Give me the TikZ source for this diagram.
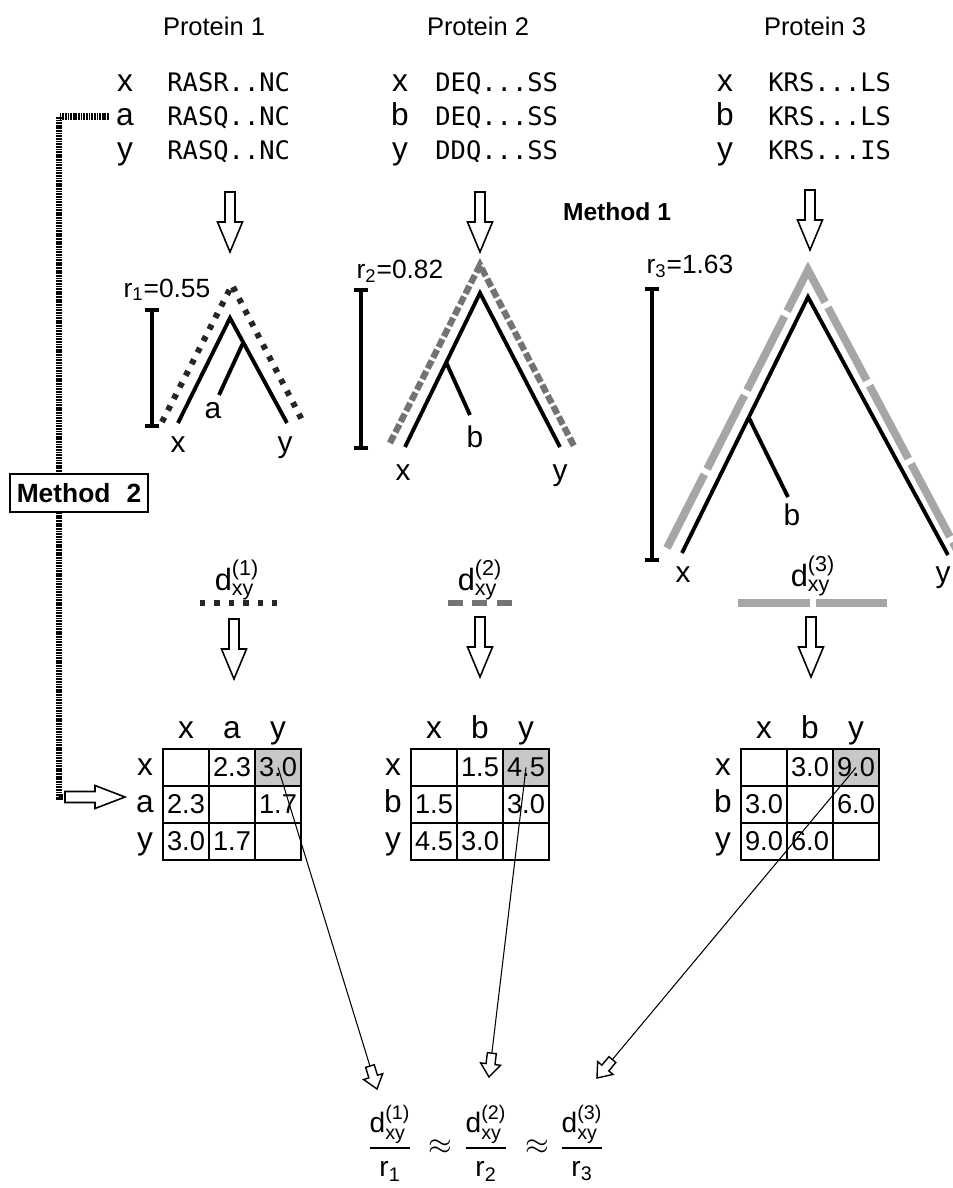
\documentclass[tikz,border=0pt]{standalone}
\usepackage{amsmath}
\usepackage{fontspec}
\setmainfont{Liberation Sans}
\newfontfamily\seqfont{DejaVu Sans Mono}
\usetikzlibrary{calc,arrows.meta}

\tikzset{
  title/.style={font=\fontsize{14.5}{17}\selectfont},
  seq/.style={font=\seqfont\fontsize{14.5}{17}\selectfont, inner sep=0pt},
  lbl/.style={font=\fontsize{18}{20}\selectfont, inner sep=0pt},
  leaf/.style={font=\fontsize{17}{19}\selectfont, inner sep=0pt},
  rlabel/.style={font=\fontsize{15}{17}\selectfont, inner sep=0pt},
  dist/.style={font=\fontsize{17.5}{20}\selectfont, inner sep=0pt},
  ratio/.style={font=\fontsize{16}{18}\selectfont, inner sep=0pt},
  method/.style={font=\bfseries\fontsize{14}{16}\selectfont},
  branch/.style={line width=2.2pt},
  scalebar/.style={line width=2pt, {Bar[width=8pt]}-{Bar[width=8pt]}},
  dotone/.style={line width=3.4pt, black!85, dash pattern=on 3pt off 4.4pt},
  dashtwo/.style={line width=3.6pt, black!55, dash pattern=on 5pt off 1.8pt},
  dashthree/.style={line width=4.5pt, black!35, dash pattern=on 47pt off 3.4pt},
  cell/.style={draw, line width=1.2pt, minimum width=0.92cm, minimum height=0.74cm,
    inner sep=0pt, font=\fontsize{15.5}{17}\selectfont},
  hit/.style={cell, fill=black!22},
  methodtwo/.style={line width=3.8pt, dash pattern=on 1pt off 0.5pt},
  thinarrow/.style={line width=0.6pt},
  bigdown/.pic={
    \draw[fill=white, line width=0.9pt] (-5,0) -- (-5,30) -- (-12.5,30) -- (0,60)
      -- (12.5,30) -- (5,30) -- (5,0) -- cycle;},
  bigright/.pic={
    \draw[fill=white, line width=0.9pt] (0,-5.5) -- (30,-5.5) -- (30,-11.5) -- (60,0)
      -- (30,11.5) -- (30,5.5) -- (0,5.5) -- cycle;},
  hollowhead/.pic={
    \draw[fill=white, line width=0.8pt] (0,0) -- (-13,10) -- (-13,4.5) -- (-24,4.5)
      -- (-24,-4.5) -- (-13,-4.5) -- (-13,-10) -- cycle;},
}

\begin{document}
\begin{tikzpicture}[x=0.02cm, y=-0.02cm]
    \useasboundingbox (0,0) rectangle (953,1188);

    % titles
    \node[title] (t1) at (214,26) {Protein 1};
    \node[title] (t2) at (478,26) {Protein 2};
    \node[title] (t3) at (815,26) {Protein 3};

    % sequences protein 1
    \node[lbl, anchor=base] (p1x) at (125,91) {x};
    \node[lbl, anchor=base] (p1a) at (125,125) {a};
    \node[lbl, anchor=base] (p1y) at (125,159) {y};
    \node[seq, anchor=base west] (s1x) at (167,91) {RASR..NC};
    \node[seq, anchor=base west] (s1a) at (167,125) {RASQ..NC};
    \node[seq, anchor=base west] (s1y) at (167,159) {RASQ..NC};

    % sequences protein 2
    \node[lbl, anchor=base] (p2x) at (400,91) {x};
    \node[lbl, anchor=base] (p2b) at (400,125) {b};
    \node[lbl, anchor=base] (p2y) at (400,159) {y};
    \node[seq, anchor=base west] (s2x) at (435,91) {DEQ...SS};
    \node[seq, anchor=base west] (s2b) at (435,125) {DEQ...SS};
    \node[seq, anchor=base west] (s2y) at (435,159) {DDQ...SS};

    % sequences protein 3
    \node[lbl, anchor=base] (p3x) at (725,91) {x};
    \node[lbl, anchor=base] (p3b) at (725,125) {b};
    \node[lbl, anchor=base] (p3y) at (725,159) {y};
    \node[seq, anchor=base west] (s3x) at (768,91) {KRS...LS};
    \node[seq, anchor=base west] (s3b) at (768,125) {KRS...LS};
    \node[seq, anchor=base west] (s3y) at (768,159) {KRS...IS};

    % arrows down to the trees
    \pic at (230,192) {bigdown};
    \pic at (480,192) {bigdown};
    \pic at (810,190) {bigdown};
    \node[method, anchor=base] (meth1) at (617,220) {Method 1};

    % tree 1
    \draw[dotone] (162,422) -- (232,285) -- (302,420);
    \draw[branch] (178,423) -- (230,318) -- (287,423);
    \draw[branch] (243,343) -- (219,395);
    \draw[scalebar] (152,308) -- (152,428);
    \node[rlabel, anchor=base] (r1) at (167,297) {r$_{\text{1}}$=0.55};
    \node[leaf, anchor=base] (l1x) at (178,452) {x};
    \node[leaf, anchor=base] (l1a) at (213,418) {a};
    \node[leaf, anchor=base] (l1y) at (285,452) {y};

    % tree 2
    \draw[dashtwo] (390,443) -- (480,265) -- (575,448);
    \draw[branch] (405,447) -- (480,293) -- (560,447);
    \draw[branch] (446,362) -- (470,415);
    \draw[scalebar] (361,288) -- (361,450);
    \node[rlabel, anchor=base] (r2) at (400,278) {r$_{\text{2}}$=0.82};
    \node[leaf, anchor=base] (l2x) at (403,480) {x};
    \node[leaf, anchor=base] (l2b) at (475,447) {b};
    \node[leaf, anchor=base] (l2y) at (560,480) {y};

    % tree 3
    \draw[dashthree] (667,548) -- (808,270) -- (958,552);
    \draw[branch] (682,553) -- (808,297) -- (948,555);
    \draw[branch] (749,418) -- (788,497);
    \draw[scalebar] (652,287) -- (652,562);
    \node[rlabel, anchor=base] (r3) at (690,273) {r$_{\text{3}}$=1.63};
    \node[leaf, anchor=base] (l3x) at (683,582) {x};
    \node[leaf, anchor=base] (l3b) at (792,525) {b};
    \node[leaf, anchor=base] (l3y) at (943,582) {y};

    % distances
    \node[dist] (d1) at (237,580) {d$^{\text{(1)}}_{\text{xy}}$};
    \node[dist] (d2) at (480,580) {d$^{\text{(2)}}_{\text{xy}}$};
    \node[dist] (d3) at (813,576) {d$^{\text{(3)}}_{\text{xy}}$};
    \draw[dotone, dash pattern=on 3.1pt off 5.1pt] (200,603) -- (278,603);
    \draw[dashtwo, dash pattern=on 8.5pt off 5.4pt] (448,603) -- (512,603);
    \draw[dashthree, dash pattern=on 40.8pt off 3.4pt] (738,603) -- (888,603);
    \pic at (234,619) {bigdown};
    \pic at (480,617) {bigdown};
    \pic at (811,617) {bigdown};

    % matrix 1
    \node[lbl, anchor=base] (h1x) at (186,738) {x};
    \node[lbl, anchor=base] (h1a) at (232,738) {a};
    \node[lbl, anchor=base] (h1y) at (278,738) {y};
    \node[lbl, anchor=base] (v1x) at (145,775) {x};
    \node[lbl, anchor=base] (v1a) at (145,812) {a};
    \node[lbl, anchor=base] (v1y) at (145,849) {y};
    \node[cell] (m1xx) at (186,767.5) {};
    \node[cell] (m1xa) at (232,767.5) {2.3};
    \node[hit]  (m1xy) at (278,767.5) {3.0};
    \node[cell] (m1ax) at (186,804.5) {2.3};
    \node[cell] (m1aa) at (232,804.5) {};
    \node[cell] (m1ay) at (278,804.5) {1.7};
    \node[cell] (m1yx) at (186,841.5) {3.0};
    \node[cell] (m1ya) at (232,841.5) {1.7};
    \node[cell] (m1yy) at (278,841.5) {};

    % matrix 2
    \node[lbl, anchor=base] (h2x) at (434,738) {x};
    \node[lbl, anchor=base] (h2b) at (480,738) {b};
    \node[lbl, anchor=base] (h2y) at (526,738) {y};
    \node[lbl, anchor=base] (v2x) at (393,775) {x};
    \node[lbl, anchor=base] (v2b) at (393,812) {b};
    \node[lbl, anchor=base] (v2y) at (393,849) {y};
    \node[cell] (m2xx) at (434,767.5) {};
    \node[cell] (m2xb) at (480,767.5) {1.5};
    \node[hit]  (m2xy) at (526,767.5) {4.5};
    \node[cell] (m2bx) at (434,804.5) {1.5};
    \node[cell] (m2bb) at (480,804.5) {};
    \node[cell] (m2by) at (526,804.5) {3.0};
    \node[cell] (m2yx) at (434,841.5) {4.5};
    \node[cell] (m2yb) at (480,841.5) {3.0};
    \node[cell] (m2yy) at (526,841.5) {};

    % matrix 3
    \node[lbl, anchor=base] (h3x) at (764,738) {x};
    \node[lbl, anchor=base] (h3b) at (810,738) {b};
    \node[lbl, anchor=base] (h3y) at (856,738) {y};
    \node[lbl, anchor=base] (v3x) at (723,775) {x};
    \node[lbl, anchor=base] (v3b) at (723,812) {b};
    \node[lbl, anchor=base] (v3y) at (723,849) {y};
    \node[cell] (m3xx) at (764,767.5) {};
    \node[cell] (m3xb) at (810,767.5) {3.0};
    \node[hit]  (m3xy) at (856,767.5) {9.0};
    \node[cell] (m3bx) at (764,804.5) {3.0};
    \node[cell] (m3bb) at (810,804.5) {};
    \node[cell] (m3by) at (856,804.5) {6.0};
    \node[cell] (m3yx) at (764,841.5) {9.0};
    \node[cell] (m3yb) at (810,841.5) {6.0};
    \node[cell] (m3yy) at (856,841.5) {};

    % method 2
    \draw[methodtwo] ([xshift=-4pt]p1a.west) -| (59,797) -- (66,797);
    \pic at (65,797) {bigright};
    \node[draw, fill=white, line width=1pt, minimum width=2.76cm, minimum height=0.76cm,
      font=\bfseries\fontsize{15}{17}\selectfont] (meth2) at (79,493) {Method\,\, 2};

    % ratios
    \node[ratio] (f1) at (390,1143) {$\dfrac{\text{d}^{\text{(1)}}_{\text{xy}}}{\text{r}_{\text{1}}}$};
    \node[ratio] (ap1) at (440,1147) {$\approx$};
    \node[ratio] (f2) at (486,1143) {$\dfrac{\text{d}^{\text{(2)}}_{\text{xy}}}{\text{r}_{\text{2}}}$};
    \node[ratio] (ap2) at (537,1147) {$\approx$};
    \node[ratio] (f3) at (582,1143) {$\dfrac{\text{d}^{\text{(3)}}_{\text{xy}}}{\text{r}_{\text{3}}}$};

    % arrows to the ratios
    \coordinate (h1) at (377,1089);
    \coordinate (h2) at (489,1077);
    \coordinate (h3) at (597,1078);
    \draw[thinarrow] (m1xy.center) -- (h1);
    \draw[thinarrow] (m2xy.center) -- (h2);
    \draw[thinarrow] (m3xy.center) -- (h3);
    \path let \p1=($(h1)-(m1xy.center)$), \n1={atan2(\y1,\x1)} in (h1) pic[rotate=\n1] {hollowhead};
    \path let \p1=($(h2)-(m2xy.center)$), \n1={atan2(\y1,\x1)} in (h2) pic[rotate=\n1] {hollowhead};
    \path let \p1=($(h3)-(m3xy.center)$), \n1={atan2(\y1,\x1)} in (h3) pic[rotate=\n1] {hollowhead};

\end{tikzpicture}
\end{document}
